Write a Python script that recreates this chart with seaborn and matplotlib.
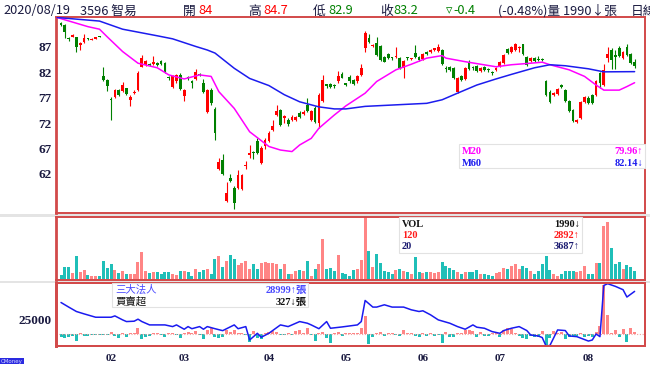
import numpy as np
import matplotlib
matplotlib.use("Agg")
import matplotlib.pyplot as plt
from matplotlib.patches import Rectangle
import seaborn as sns

# daily candles (Taiwan colours: red = up, green = down)
opens = [91.8, 91.3, 88.6, 89.0, 88.9, 87.3, 88.0, 88.6, 88.4, 88.6,
         89.1, 81.2, 80.4, 76.7, 77.2, 78.5, 78.3, 78.9, 76.6, 78.0,
         78.5, 83.1, 83.5, 83.6, 83.6, 83.9, 84.2, 83.8, 80.9, 79.1,
         80.2, 81.5, 77.4, 80.9, 80.1, 80.7, 81.6, 79.9, 74.1, 78.5,
         74.8, 63.0, 64.8, 56.7, 61.2, 59.3, 59.2, 59.1, 63.6, 65.8,
         66.2, 68.4, 64.2, 67.4, 68.4, 70.7, 73.6, 74.5, 73.1, 72.6,
         72.6, 72.7, 74.0, 73.8, 75.6, 72.6, 75.0, 72.0, 76.4, 79.5,
         79.7, 79.6, 80.2, 81.7, 79.7, 81.0, 80.5, 80.2, 81.5, 86.7,
         88.7, 87.2, 87.7, 87.1, 85.1, 85.6, 84.9, 85.0, 84.8, 82.9,
         84.9, 84.6, 85.8, 85.0, 84.6, 86.1, 86.0, 86.5, 86.2, 86.4,
         82.8, 83.0, 82.8, 78.1, 81.3, 80.7, 83.8, 82.9, 83.3, 82.3,
         83.1, 82.5, 81.9, 82.4, 83.3, 83.8, 86.6, 86.1, 86.5, 86.8,
         87.5, 85.1, 84.2, 84.8, 84.5, 84.6, 80.2, 78.2, 77.5, 77.7,
         79.3, 78.5, 76.4, 74.6, 72.2, 73.0, 76.1, 77.0, 77.5, 77.6,
         81.8, 79.5, 84.8, 86.4, 85.2, 86.7, 84.9, 86.9, 85.6, 84.0]
closes = [91.3, 89.9, 88.5, 89.3, 86.9, 87.8, 88.8, 88.5, 88.5, 88.9,
          89.0, 80.4, 79.4, 76.6, 78.5, 77.6, 79.5, 77.7, 77.2, 78.1,
          81.8, 84.9, 84.2, 83.5, 84.0, 83.5, 83.6, 82.0, 80.8, 81.2,
          81.4, 78.7, 78.5, 80.8, 80.0, 82.0, 81.5, 78.1, 78.5, 75.9,
          70.0, 64.4, 62.0, 58.3, 60.7, 56.2, 61.8, 61.8, 63.8, 66.1,
          66.1, 66.1, 67.1, 68.7, 70.1, 71.4, 74.4, 71.6, 73.4, 71.9,
          73.3, 73.2, 73.3, 74.2, 74.3, 74.3, 72.3, 77.6, 80.5, 79.4,
          79.1, 79.3, 81.2, 80.9, 79.6, 80.2, 79.7, 81.2, 82.8, 89.7,
          87.9, 87.4, 85.4, 84.4, 84.1, 84.8, 84.8, 85.1, 82.9, 84.3,
          84.8, 84.7, 85.0, 84.5, 85.6, 85.6, 86.4, 86.6, 86.9, 83.6,
          82.7, 82.4, 80.8, 80.8, 80.5, 82.8, 82.7, 82.8, 82.3, 82.9,
          82.5, 82.4, 81.8, 82.9, 84.1, 85.4, 85.8, 86.9, 87.5, 86.9,
          85.6, 83.5, 84.8, 84.2, 84.4, 84.5, 77.6, 76.1, 77.9, 78.7,
          79.2, 76.4, 74.3, 72.4, 72.6, 76.1, 77.2, 75.9, 76.0, 80.2,
          79.9, 82.5, 85.6, 84.4, 85.1, 85.3, 86.1, 85.4, 83.8, 83.2]
highs = [92.0, 91.5, 89.0, 89.5, 89.0, 88.0, 89.5, 88.7, 88.7, 89.0,
         89.2, 83.0, 80.6, 77.2, 78.7, 78.7, 80.1, 79.0, 77.5, 78.5,
         82.2, 85.5, 84.5, 83.8, 85.3, 84.0, 84.5, 84.0, 81.3, 81.4,
         81.6, 81.8, 78.8, 81.3, 80.4, 82.6, 81.8, 80.6, 78.8, 79.0,
         75.2, 65.2, 66.0, 60.4, 62.0, 59.6, 62.7, 62.0, 64.5, 67.7,
         66.5, 69.1, 67.5, 69.0, 70.5, 72.6, 75.5, 74.8, 73.6, 73.0,
         73.6, 73.5, 74.3, 74.5, 76.9, 74.5, 75.3, 77.9, 81.5, 79.7,
         79.9, 79.8, 82.2, 82.0, 80.0, 81.4, 80.7, 81.4, 83.6, 90.2,
         89.6, 87.6, 89.0, 87.3, 85.3, 85.8, 85.1, 86.9, 85.0, 84.5,
         85.1, 84.9, 87.3, 85.2, 85.8, 86.3, 86.6, 86.8, 87.5, 86.6,
         83.3, 83.2, 83.0, 81.0, 81.5, 83.0, 84.5, 83.2, 83.5, 83.1,
         83.3, 82.9, 82.3, 83.1, 84.3, 85.6, 86.8, 87.1, 87.8, 87.2,
         87.6, 85.3, 85.0, 85.0, 85.3, 84.9, 80.5, 78.5, 78.1, 78.9,
         79.7, 78.7, 76.6, 74.8, 72.8, 76.3, 77.4, 77.3, 77.8, 80.5,
         82.0, 83.7, 87.0, 86.8, 86.5, 87.2, 86.3, 87.5, 85.8, 84.7]
lows = [91.1, 88.7, 88.2, 88.9, 86.0, 86.5, 87.8, 88.3, 88.3, 88.5,
        88.9, 80.2, 78.4, 72.6, 77.0, 77.4, 78.1, 77.5, 75.3, 77.7,
        78.4, 83.0, 83.3, 83.3, 83.5, 83.3, 83.5, 81.9, 80.5, 79.0,
        80.0, 78.5, 76.3, 80.4, 78.9, 80.5, 81.2, 78.0, 74.0, 75.6,
        68.7, 62.8, 61.8, 56.5, 60.5, 55.0, 59.0, 58.9, 63.0, 65.2,
        65.0, 65.9, 64.0, 67.0, 68.2, 70.5, 73.4, 71.4, 72.0, 71.4,
        72.4, 72.5, 73.0, 73.6, 74.1, 72.4, 72.1, 71.0, 76.2, 78.9,
        79.0, 79.0, 80.0, 80.8, 79.3, 80.0, 79.5, 80.0, 81.3, 86.0,
        87.7, 87.0, 85.2, 84.2, 84.0, 84.6, 84.5, 84.9, 82.7, 80.9,
        84.5, 84.4, 84.8, 84.3, 84.4, 85.4, 85.9, 86.3, 86.0, 83.4,
        82.0, 82.2, 80.6, 77.9, 80.3, 80.5, 82.5, 82.5, 82.1, 82.1,
        82.3, 82.1, 81.4, 82.2, 83.1, 83.6, 85.6, 85.9, 86.3, 86.0,
        85.4, 83.3, 84.0, 84.0, 84.2, 84.3, 77.4, 75.9, 77.3, 77.5,
        78.9, 76.2, 74.1, 72.2, 72.0, 72.8, 75.9, 75.7, 75.8, 77.4,
        79.0, 79.3, 84.0, 82.6, 82.6, 85.1, 84.7, 85.2, 83.6, 82.9]

# volume (lots)
volume = [1220, 2920, 2920, 1540, 5360, 1770, 2300, 1220, 990, 990,
          850, 4210, 2760, 3680, 2300, 1540, 2140, 1380, 1380, 1380,
          4070, 6370, 2140, 1540, 1910, 1770, 1380, 1910, 1770, 1380,
          1220, 2140, 2140, 1910, 990, 2530, 1770, 2300, 2460, 1380,
          4830, 5360, 3060, 4300, 5590, 4830, 3450, 3840, 4300, 2530,
          3680, 2530, 3840, 4070, 3840, 3840, 3680, 2530, 3520, 1380,
          1380, 2000, 2300, 2000, 4300, 990, 2530, 3680, 9200, 2530,
          2760, 2140, 5590, 1540, 1380, 990, 2300, 2530, 4440, 14260,
          6600, 2920, 5980, 3840, 2140, 1910, 1380, 2300, 2460, 2000,
          1770, 1380, 5220, 1770, 1540, 1910, 1770, 1540, 1910, 4070,
          3290, 2760, 2300, 1770, 1380, 1770, 1910, 1770, 2300, 1380,
          1380, 1220, 990, 1540, 1770, 2760, 2530, 3290, 3520, 2530,
          3290, 2760, 2140, 1380, 2140, 3680, 5360, 2300, 1380, 990,
          1380, 2140, 2000, 2140, 1770, 2000, 3290, 1380, 1380, 3840,
          3910, 12260, 13110, 7360, 3520, 4070, 2530, 3450, 3060, 1990]

# institutional net buy/sell (lots)
net = [-300, -500, -300, -200, -760, 150, -200, -200, -100, -100,
       -100, -100, -100, 260, -200, -420, 150, -380, 150, 150,
       650, -600, -380, -230, 150, 150, -110, -300, 150, 150,
       -110, -500, 150, 260, 150, 380, -110, -600, 450, 650,
       -300, -500, -300, 450, 260, 450, 150, 150, -110, -870,
       380, -500, -600, 150, 260, 380, 260, -110, -150, 150,
       -150, 380, 450, 150, 650, -150, -760, 150, 260, -500,
       -1060, 150, 230, -230, 150, 150, 150, 150, 650, 2050,
       -1140, -300, 150, 260, -230, 150, 150, -110, -230, 450,
       150, 150, -230, -300, 150, -230, 150, -230, -110, -980,
       260, -300, -300, 150, 150, 450, 450, 380, -380, 260,
       -230, -230, 150, 150, -300, 450, 650, 530, 150, -230,
       -500, -600, -230, -300, -380, 380, -1250, -500, 380, 150,
       260, -600, -300, -230, -230, 150, -300, -230, -300, 260,
       910, 5590, 2170, 150, 450, -300, 530, -870, 650, 260]

# institutional holdings line (lots), read at sample days
hold_day = [0, 2, 4, 6, 9, 13, 14, 16, 17, 19, 20, 21, 23, 27, 29, 30, 32, 33, 34, 36,
            37, 38, 40, 42, 45, 46, 48, 49, 51, 52, 54, 57, 59, 62, 64, 65, 67, 69, 70, 73,
            77, 78, 79, 81, 82, 84, 86, 89, 91, 93, 94, 96, 98, 101, 103, 105, 107, 108, 110, 112,
            114, 115, 117, 119, 121, 122, 124, 125, 126, 127, 129, 131, 132, 134, 137, 138, 139, 140, 141, 142,
            144, 146, 147, 149]
hold_lots = [26970, 26450, 25950, 25680, 25300, 25300, 25450, 25000, 24810, 24850,
             25080, 24810, 24430, 24430, 24240, 24430, 23940, 24240, 24000, 24240,
             23940, 24240, 24000, 23780, 24430, 24000, 24240, 22720, 23480, 23030,
             23480, 24430, 24240, 24810, 24620, 24430, 24000, 24810, 24050, 24200,
             24430, 24810, 27200, 26450, 26450, 26710, 26450, 26450, 26140, 25950,
             26030, 25570, 25000, 24620, 24240, 23940, 24430, 24170, 24050, 23670,
             23480, 23790, 24050, 24240, 23790, 23290, 23170, 23000, 22040, 22100,
             23860, 23790, 23180, 23100, 22600, 22720, 23400, 23100, 28900, 29100,
             28800, 28420, 27590, 28230]

# moving averages read at sample days
ma20_day = [-1, 7, 10, 12, 16, 20, 25, 28, 32, 36, 39, 41, 45, 49, 54, 57, 60, 62, 65, 67,
            71, 74, 77, 79, 82, 87, 91, 95, 99, 100, 105, 113, 117, 122, 125, 127, 132, 136, 139, 141,
            145, 147, 149]
ma20_val = [92.8, 91.0, 90.5, 89.0, 86.1, 83.8, 82.9, 81.5, 80.7, 81.5,
            81.2, 78.2, 74.9, 70.3, 67.4, 66.7, 66.4, 67.7, 69.0, 71.0,
            73.6, 75.4, 76.9, 77.9, 80.2, 82.5, 83.6, 84.8, 85.3, 84.8,
            84.1, 83.1, 83.5, 83.8, 84.0, 83.5, 82.5, 81.2, 79.5, 78.5,
            78.5, 79.2, 79.96]
ma60_day = [-1, 10, 16, 25, 29, 35, 38, 40, 45, 49, 54, 58, 62, 67, 71, 74, 79, 87, 95, 99,
            103, 108, 113, 117, 123, 127, 131, 137, 141, 149]
ma60_val = [92.8, 92.1, 90.5, 89.2, 88.6, 87.1, 86.4, 85.8, 82.8, 80.8,
            79.4, 77.6, 76.2, 75.2, 74.8, 74.8, 75.3, 75.6, 75.9, 76.6,
            77.9, 79.5, 80.7, 81.6, 82.9, 83.5, 83.3, 82.7, 82.1, 82.14]

month_day = [13, 32, 54, 74, 94, 114, 137]
month_labels = ["02", "03", "04", "05", "06", "07", "08"]
price_ticks = [62, 67, 72, 77, 82, 87]

RED, GREEN = "#ff0000", "#008000"
VUP, VDN = "#ff8585", "#1fbfb8"
BORDER = "#d24a4a"
INK = "#1a1a40"
SERIF = ["Liberation Serif", "Noto Sans CJK TC", "DejaVu Sans"]

sns.set_theme(style="white")
plt.rcParams["font.family"] = ["Noto Sans CJK TC", "DejaVu Sans"]

W, H = 650, 375
def fx(px):
    return px / W
def fy(py):
    return 1 - py / H

fig = plt.figure(figsize=(6.5, 3.75), dpi=100)
fig.patch.set_facecolor("white")
L, R = 56, 645
ax_p = fig.add_axes([fx(L), fy(213), fx(R) - fx(L), fy(16.5) - fy(213)])
ax_v = fig.add_axes([fx(L), fy(280), fx(R) - fx(L), fy(217) - fy(280)])
ax_n = fig.add_axes([fx(L), fy(346), fx(R) - fx(L), fy(283) - fy(346)])
ax_h = ax_n.twinx()

# grey separators
for top, bot in [(213.5, 216.5), (280.5, 282.5)]:
    fig.add_artist(Rectangle((0, fy(bot)), 1, fy(top) - fy(bot), transform=fig.transFigure,
                             facecolor="#e4e4e4", edgecolor="none", zorder=-5))

o = np.array(opens); c = np.array(closes)
hi = np.array(highs); lo = np.array(lows)
days = np.arange(len(c))
up = c >= o
ccol = np.where(up, RED, GREEN)

# price panel
ax_p.vlines(days, lo, hi, colors=ccol, linewidth=0.8, zorder=2)
ax_p.bar(days, np.maximum(np.abs(c - o), 0.22), bottom=np.minimum(o, c), width=0.72,
         color=ccol, linewidth=0, zorder=3)
sns.lineplot(x=ma20_day, y=ma20_val, ax=ax_p, color="#ff00ff", linewidth=1.1, zorder=4)
sns.lineplot(x=ma60_day, y=ma60_val, ax=ax_p, color="#1c1cee", linewidth=1.1, zorder=4)
ax_p.set_ylim(54.3, 93.0)
ax_p.set_yticks(price_ticks)
ax_p.set_yticklabels([str(t) for t in price_ticks])

# volume panel
ax_v.bar(days, volume, width=0.78, color=np.where(up, VUP, VDN), linewidth=0)
ax_v.set_ylim(0, 14300)
ax_v.set_yticks([])

# institutional panel
net_a = np.array(net)
ax_n.bar(days, net_a, width=0.78, color=np.where(net_a >= 0, VUP, VDN), linewidth=0)
ax_n.axhline(0, color="#f0a0a0", linewidth=0.8, linestyle=(0, (1, 1.5)), zorder=1)
ax_n.set_ylim(-1370, 5780)
ax_n.set_yticks([])
sns.lineplot(x=hold_day, y=hold_lots, ax=ax_h, color="#1a1af0", linewidth=1.1)
ax_h.set_ylim(22040, 29180)
ax_h.set_ylabel("")
ax_h.yaxis.set_ticks_position("left")
ax_h.yaxis.set_label_position("left")
ax_h.set_yticks([25000])
ax_h.set_yticklabels(["25000"])

for ax in (ax_p, ax_v, ax_n, ax_h):
    ax.set_xlim(-1.3, 151.7)
    ax.set_xlabel("")
    ax.set_ylabel("")
    ax.set_facecolor("white")
    for side, sp in ax.spines.items():
        sp.set_visible(True)
        sp.set_color(BORDER)
        sp.set_linewidth(2.0 if side == "left" else 1.4)
    ax.tick_params(axis="y", length=0, pad=3, labelsize=9.5, labelcolor=INK)
    for lab in ax.get_yticklabels():
        lab.set_family(SERIF)
        lab.set_fontweight("bold")

ax_p.set_xticks(month_day)
ax_p.set_xticklabels([])
ax_p.tick_params(axis="x", direction="in", length=3, color=BORDER, width=0.8)
ax_v.set_xticks([])
ax_h.set_xticks([])
ax_n.set_xticks(month_day)
ax_n.set_xticklabels(month_labels)
ax_n.set_xticks(days, minor=True)
ax_n.tick_params(axis="x", which="major", length=2, color=BORDER, pad=4,
                 labelsize=8, labelcolor=INK)
ax_n.tick_params(axis="x", which="minor", length=1.5, color=BORDER, width=0.6)
for lab in ax_n.get_xticklabels():
    lab.set_family(SERIF)
    lab.set_fontweight("bold")

# header line
hy = fy(11)
header = [(3, "2020/08/19", INK), (80, "3596 智易", INK),
          (183, "開", INK), (198, "84", RED),
          (248, "高", INK), (263, "84.7", RED),
          (313, "低", INK), (328, "82.9", GREEN),
          (380, "收", INK), (393, "83.2", GREEN),
          (446, "▿", GREEN), (453, "-0.4", GREEN),
          (498, "(-0.48%)量 1990↓張", INK), (631, "日線", INK)]
for x, s, col in header:
    fig.text(fx(x), hy, s, color=col, fontsize=9.2, va="center", ha="left",
             family=["Noto Sans CJK TC", "DejaVu Sans"])

# legend boxes
def box(x0, y0, x1, y1):
    fig.add_artist(Rectangle((fx(x0), fy(y1)), fx(x1) - fx(x0), fy(y0) - fy(y1),
                             transform=fig.transFigure, facecolor="white",
                             edgecolor="#e2e2e2", linewidth=0.8, zorder=8))

def row(x0, x1, y, left, right, col, lfam=SERIF, lw="bold"):
    fig.text(fx(x0), fy(y), left, color=col, fontsize=7.5, va="center", ha="left",
             family=lfam, fontweight=lw, zorder=9)
    fig.text(fx(x1), fy(y), right, color=col, fontsize=7.5, va="center", ha="right",
             family=SERIF, fontweight="bold", zorder=9)

box(459, 144, 645, 168)
row(462, 643, 151, "M20", "79.96↑", "#ff00ff")
row(462, 643, 163, "M60", "82.14↓", "#1c1cee")

box(399, 217, 582, 253)
row(402, 580, 224, "VOL", "1990↓", "#111111")
row(402, 580, 236, "120", "2892↑", "#ff1a1a")
row(402, 580, 247, "20", "3687↑", "#1a1a70")

box(112, 283, 308, 307)
row(115, 307, 290, "三大法人", "28999↑張", "#4848ff",
    lfam=["Noto Sans CJK TC", "DejaVu Sans"], lw="normal")
row(115, 307, 302, "買賣超", "327↓張", "#111111",
    lfam=["Noto Sans CJK TC", "DejaVu Sans"], lw="normal")

fig.text(fx(1), fy(361), "CMoney", fontsize=4, color="#d8d8ff", va="center", ha="left",
         family=["DejaVu Sans"],
         bbox=dict(facecolor="#2a2ae0", edgecolor="none", pad=0.6))

fig.savefig("out.png", dpi=100, facecolor="white")
